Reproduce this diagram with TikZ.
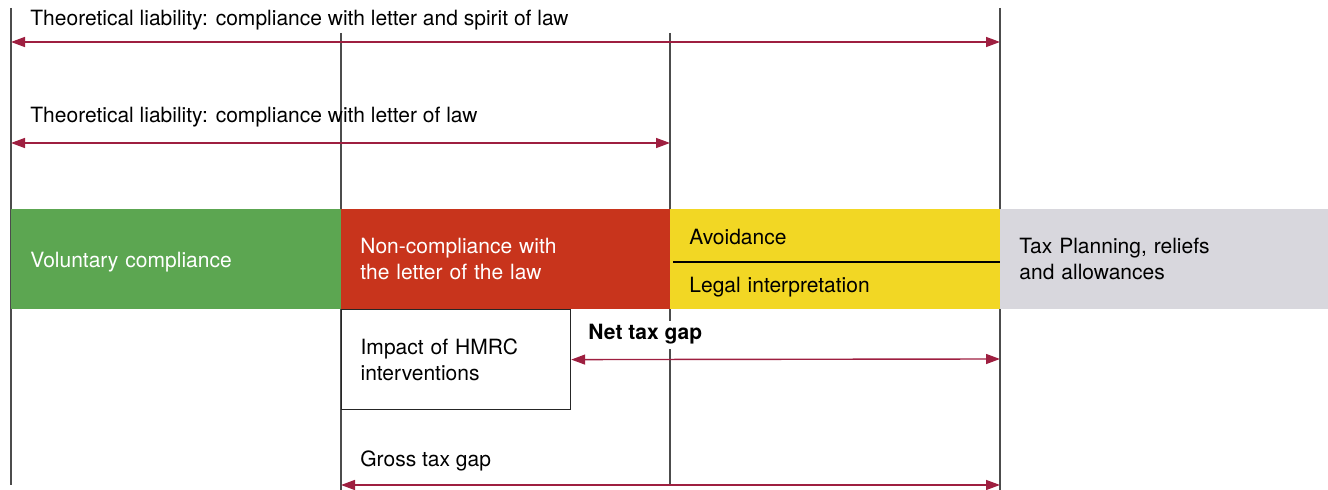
\documentclass[tikz,border=0pt]{standalone}
\usepackage{fontspec}
\setmainfont{TeX Gyre Heros}
\usetikzlibrary{arrows.meta}
\definecolor{gapred}{HTML}{9E1F40}
\definecolor{vcgreen}{HTML}{5CA651}
\definecolor{ncred}{HTML}{C8341C}
\definecolor{avyellow}{HTML}{F2D724}
\definecolor{tpgrey}{HTML}{D8D7DD}

\begin{document}
\begin{tikzpicture}[x=0.5pt, y=-0.5pt,
	every node/.style={font=\fontsize{10.5}{13}\selectfont, inner sep=0pt},
	span/.style={{Triangle[length=7pt,width=5pt]}-{Triangle[length=7pt,width=5pt]}, gapred, line width=0.7pt},
	bar/.style={anchor=north west, inner xsep=9.5pt, inner ysep=0pt, minimum height=#1, text width=146pt, align=left}]
	\useasboundingbox (0,0) rectangle (1328,490);
	% band edges
	\foreach \x/\a/\b in {11/8/485, 341/33/490, 670/33/485, 1000/8/490} {\draw[gray!60!black, line width=0.7pt] (\x,\a) -- (\x,\b);}
	% theoretical liability spans
	\node[anchor=base west] (spirit) at (30,26) {Theoretical liability: compliance with letter and spirit of law};
	\coordinate (spiritl) at (11,42); \coordinate (spiritr) at (1000,42);
	\draw[span] (spiritl) -- (spiritr);
	\node[anchor=base west] (letter) at (30,123) {Theoretical liability: compliance with letter of law};
	\coordinate (letterl) at (11,143); \coordinate (letterr) at (670,143);
	\draw[span] (letterl) -- (letterr);
	% the four bands
	\node[bar=50pt, fill=vcgreen, text=white, text height=8.4pt, text depth=0pt] (vc) at (11,209) {Voluntary compliance};
	\node[bar=50pt, fill=ncred, text=white] (nc) at (341,209) {Non-compliance with\\the letter of the law};
	\node[bar=26pt, fill=avyellow, text height=8.8pt, text depth=0pt] (avoid) at (670,209) {Avoidance};
	\node[bar=24pt, fill=avyellow, text height=7pt, text depth=0pt] (legal) at (670,261) {Legal interpretation};
	\draw[line width=0.8pt] (avoid.south west) ++(3,0) -- (avoid.south east);
	\node[bar=50pt, fill=tpgrey, text width=145pt] (tp) at (1000,209) {Tax Planning, reliefs\\and allowances};
	% gaps
	\node[bar=50pt, draw=black!85, line width=0.6pt, text width=95.5pt] (hmrc) at (341,309) {Impact of HMRC\\interventions};
	\node[anchor=base west, fill=white, inner ysep=2pt, font=\fontsize{10.5}{13}\selectfont\bfseries] (net) at (588,340) {Net tax gap};
	\coordinate (netr) at (1000,359);
	\draw[span] (hmrc.east) -- (netr);
	\node[anchor=base west] (gross) at (360,467) {Gross tax gap};
	\coordinate (grossl) at (341,485); \coordinate (grossr) at (1000,485);
	\draw[span] (grossl) -- (grossr);
\end{tikzpicture}
\end{document}
